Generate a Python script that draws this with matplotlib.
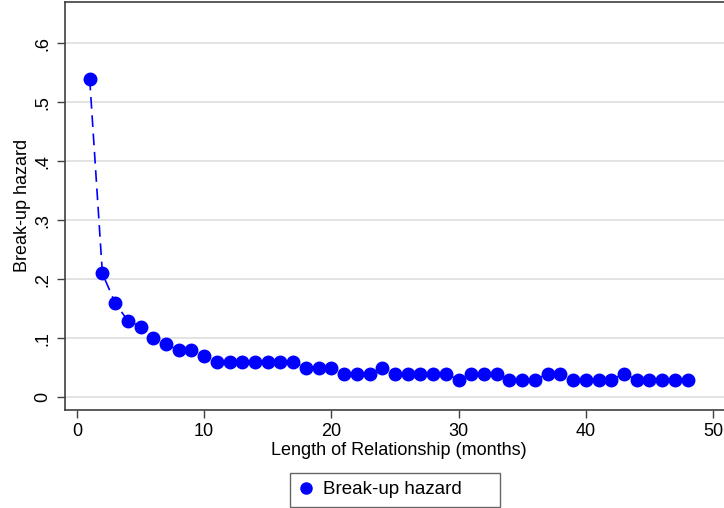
import matplotlib.pyplot as plt
from matplotlib.lines import Line2D

plt.rcParams['font.family'] = ['Liberation Sans', 'DejaVu Sans']

months = list(range(1, 49))
hazard = [0.54, 0.21, 0.16, 0.13, 0.12, 0.10, 0.09, 0.08, 0.08, 0.07,
          0.06, 0.06, 0.06, 0.06, 0.06, 0.06, 0.06, 0.05, 0.05, 0.05,
          0.04, 0.04, 0.04, 0.05, 0.04, 0.04, 0.04, 0.04, 0.04, 0.03,
          0.04, 0.04, 0.04, 0.03, 0.03, 0.03, 0.04, 0.04, 0.03, 0.03,
          0.03, 0.03, 0.04, 0.03, 0.03, 0.03, 0.03, 0.03]
yticks = [0, 0.1, 0.2, 0.3, 0.4, 0.5, 0.6]
ytick_labels = ["0", ".1", ".2", ".3", ".4", ".5", ".6"]
xticks = [0, 10, 20, 30, 40, 50]

blue = "#0000ff"
edge = "#404040"

fig = plt.figure(figsize=(7.24, 5.08), dpi=100)
W, H = 724, 508
ax = fig.add_axes([65 / W, (H - 409.5) / H, (732 - 65) / W, (409.5 - 2) / H])

ax.plot(months, hazard, color=blue, linestyle=(0, (7, 4)), linewidth=1.2,
        marker="o", markersize=9, markerfacecolor=blue, markeredgecolor=blue,
        zorder=3)

ax.set_xlim(-0.94, (732 - 77) / 12.72)
ax.set_ylim(-0.0205, 0.670)
ax.set_yticks(yticks)
ax.set_yticklabels(ytick_labels, rotation=90, va="center")
ax.set_xticks(xticks)
ax.grid(axis="y", color="#e3e3e3", linewidth=1.4, zorder=0)
ax.set_axisbelow(True)

for s in ["left", "bottom", "top"]:
    ax.spines[s].set_color(edge)
    ax.spines[s].set_linewidth(1.2)
ax.spines["right"].set_visible(False)
ax.tick_params(axis="both", direction="out", length=6, width=1, color=edge,
               labelsize=13, pad=4)

ax.set_xlabel("Length of Relationship (months)", fontsize=13, labelpad=1)
ax.set_ylabel("Break-up hazard", fontsize=13, labelpad=2)

# legend box below the plot, fixed width like the original
handle = Line2D([], [], color=blue, marker="o", linestyle="none",
                markersize=8)
leg = fig.legend([handle], ["Break-up hazard"], loc="center",
                 bbox_to_anchor=(290 / W, 1 - 507 / H, 210 / W, 35 / H),
                 mode="expand", fontsize=13.5,
                 frameon=True, fancybox=False, handletextpad=0.5,
                 handlelength=0.8, borderpad=0.45, borderaxespad=0)
leg.get_frame().set_edgecolor(edge)
leg.get_frame().set_linewidth(1.0)

fig.savefig("out.png", dpi=100)
